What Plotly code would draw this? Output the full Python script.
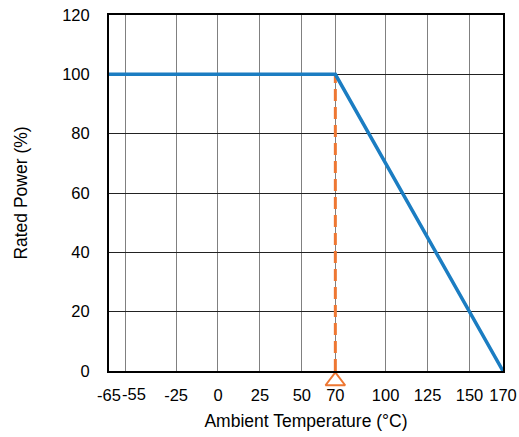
import plotly.graph_objects as go

# ---- data ----
temperature = [-65, 70, 170]          # °C
rated_power = [100, 100, 0]           # %
knee_temp = [70, 70]
knee_power = [0, 100]
x_ticks = [-65, -55, -25, 0, 25, 50, 70, 100, 125, 150, 170]
x_tick_labels = ["-65", "-55", "-25", "0", "25", "50", "70", "100", "125", "150", "170"]
y_ticks = [0, 20, 40, 60, 80, 100, 120]

FONT = "Liberation Sans, Arial, sans-serif"
BLUE = "#1B7DC2"
ORANGE = "#EE7732"

fig = go.Figure()

fig.add_trace(go.Scatter(
    x=knee_temp, y=knee_power, mode="lines",
    line=dict(color=ORANGE, width=3, dash="12px,6px"),
    hoverinfo="skip", showlegend=False,
))

fig.add_trace(go.Scatter(
    x=temperature, y=rated_power, mode="lines",
    line=dict(color=BLUE, width=3.5),
    showlegend=False,
))

# open triangle marker just below the axis at the knee temperature
fig.add_trace(go.Scatter(
    x=[knee_temp[0]], y=[knee_power[0]], mode="markers",
    marker=dict(symbol="triangle-up-open", size=17, color=ORANGE, angle=0,
                standoff=10, line=dict(color=ORANGE, width=2)),
    cliponaxis=False, showlegend=False, hoverinfo="skip",
))

# the -55 label sits a little right of its grid line (as in the reference)
shown_ticktext = [("" if v == -55 else t) for v, t in zip(x_ticks, x_tick_labels)]
fig.add_annotation(
    x=-55, y=0, xref="x", yref="paper", text=x_tick_labels[x_ticks.index(-55)],
    showarrow=False, xanchor="center", yanchor="top", xshift=8, yshift=-12,
    font=dict(family=FONT, size=16.5, color="black"),
)

fig.update_layout(
    width=519, height=437,
    margin=dict(l=109, r=16, t=15, b=66),
    paper_bgcolor="white", plot_bgcolor="white",
    font=dict(family=FONT, size=16.5, color="black"),
)

fig.update_xaxes(
    range=[-65, 170], tickmode="array", tickvals=x_ticks, ticktext=shown_ticktext,
    tickangle=0, ticks="", showgrid=True, gridcolor="#808080", gridwidth=1.3,
    showline=True, linecolor="black", linewidth=2, mirror=True, zeroline=False,
    ticklabelstandoff=8, automargin=False, ticklabeloverflow="allow",
    title=dict(text="Ambient Temperature (°C)", font=dict(size=17.5), standoff=12),
)

fig.update_yaxes(
    range=[0, 120], tickmode="array", tickvals=y_ticks,
    ticks="", showgrid=True, gridcolor="#222222", gridwidth=1,
    showline=True, linecolor="black", linewidth=2, mirror=True, zeroline=False,
    ticklabelstandoff=14, automargin=False, ticklabeloverflow="allow",
    title=dict(text="Rated Power (%)", font=dict(size=17.5), standoff=30),
)

fig.write_html("out.html", config={"displayModeBar": False},
               post_script="document.body.style.margin='0';")
